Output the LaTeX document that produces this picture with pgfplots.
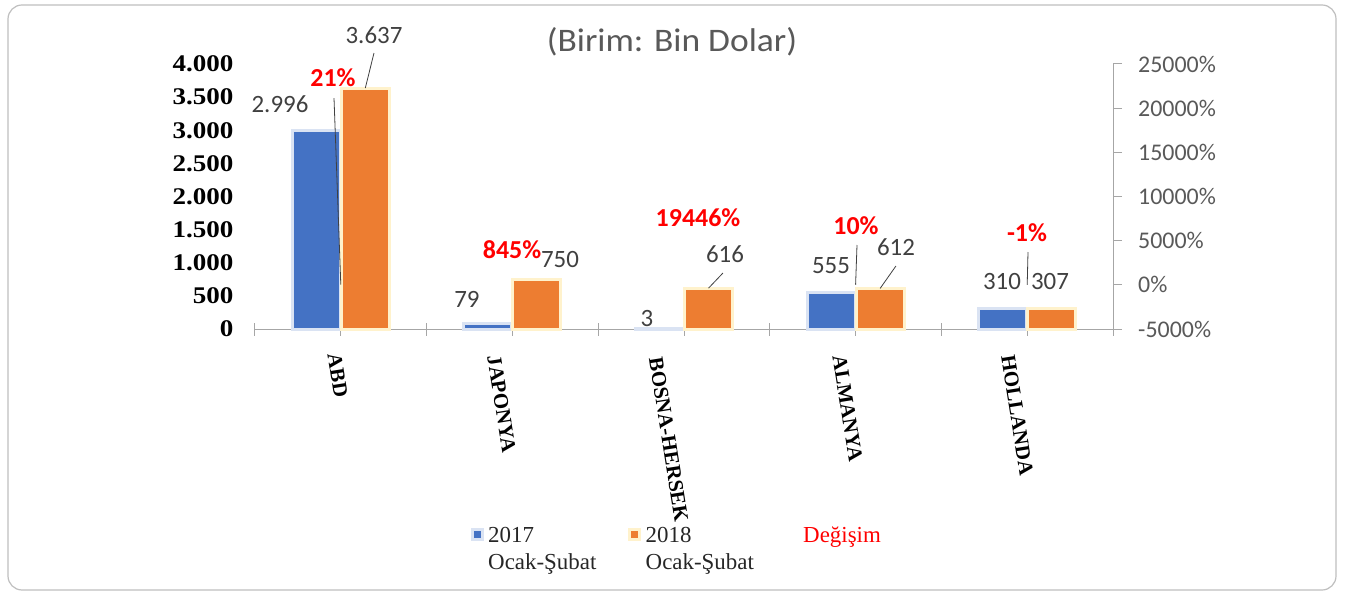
\documentclass[border=0pt]{standalone}
\usepackage{fontspec}
\setmainfont{Liberation Serif}
\newfontfamily\carlito{Carlito}
\usepackage{graphicx}
\usepackage{pgfplots}
\pgfplotsset{compat=1.18}
\definecolor{cblue}{HTML}{4472C4}
\definecolor{corange}{HTML}{ED7D31}
\definecolor{hblue}{HTML}{DAE3F3}
\definecolor{horange}{HTML}{FFF2CC}
\definecolor{axgray}{HTML}{A6A6A6}
\definecolor{txt}{HTML}{404040}
\definecolor{ttl}{HTML}{595959}
\newcommand{\cl}[2]{\raisebox{#1}[15bp][4bp]{#2}}
\newcommand{\lt}[2]{\makebox[140bp][l]{\rlap{\smash{\raisebox{-27bp}{#2}}}#1}}

\begin{document}
\begin{tikzpicture}
\useasboundingbox (-255bp,-266bp) rectangle (1091bp,329bp);
\draw[color=black!25, line width=1.2bp, rounded corners=14bp] (-247bp,-261bp) rectangle (1081bp,324bp);

\begin{axis}[
  at={(0,0)}, anchor=south west,
  scale only axis, width=858bp, height=265bp,
  xmin=-0.5, xmax=4.5, ymin=0, ymax=4000,
  clip=false,
  axis x line*=bottom, axis y line*=left,
  y axis line style={draw=none},
  x axis line style={draw=axgray, line width=1bp, -},
  xtick={0,1,2,3,4},
  xticklabels={\cl{-8bp}{ABD},\cl{-20bp}{JAPONYA},\cl{-30bp}{BOSNA-HERSEK},\cl{-18bp}{ALMANYA},\cl{-21bp}{HOLLANDA}},
  extra x ticks={-0.5,0.5,1.5,2.5,3.5,4.5},
  extra x tick labels={},
  extra x tick style={tick align=center, major tick length=13bp, x tick style={draw=axgray, line width=1bp}},
  x tick style={draw=axgray, line width=1bp},
  tick align=center,
  major tick length=13bp,
  xticklabel style={yshift=-17bp, rotate=-81, anchor=west, inner sep=0pt, font=\fontsize{21}{21}\selectfont\bfseries, text=black},
  ytick={0,500,...,4000},
  y tick style={draw=none},
  scaled y ticks=false,
  yticklabel={\scalebox{1.13}[1]{\pgfmathprintnumber[1000 sep={.},assume math mode=true]{\tick}}},
  yticklabel style={anchor=east, inner sep=0pt, xshift=-15bp, font=\fontsize{24}{24}\selectfont\bfseries, text=black},
  legend columns=3,
  legend cell align=left,
  legend style={at={(0.2512,-0.747)}, anchor=north west, draw=none, fill=none, inner sep=0pt,
    font=\fontsize{23}{23}\selectfont, text=black!85,
    nodes={inner sep=0pt},
    /tikz/every odd column/.append style={column sep=4.5bp}},
]
\addplot[ybar, bar width=0.2797, bar shift=-0.1428, fill=cblue, draw=hblue, line width=3bp,
  legend image code/.code={\draw[fill=cblue, draw=hblue, line width=3bp] (0bp,-4bp) rectangle (10bp,6bp);}]
  coordinates {(0,2996) (1,79) (2,3) (3,555) (4,310)};
\addlegendentry{\lt{2017}{Ocak-Şubat}}
\addplot[ybar, bar width=0.2797, bar shift=0.1428, fill=corange, draw=horange, line width=3bp,
  legend image code/.code={\draw[fill=corange, draw=horange, line width=3bp] (0bp,-4bp) rectangle (10bp,6bp);}]
  coordinates {(0,3637) (1,750) (2,616) (3,612) (4,307)};
\addlegendentry{\lt{2018}{Ocak-Şubat}}
\addlegendimage{draw=none, fill=none, legend image code/.code={\path[draw=none, fill=none] (-1.5bp,-5.5bp) rectangle (11.5bp,7.5bp);}}
\addlegendentry{\textcolor{red}{Değişim}}

% value labels
\begin{scope}[every node/.style={anchor=base, inner sep=0pt, font=\carlito\fontsize{25}{25}\selectfont, text=txt}]
\node at (axis cs:0.1935,4317) {3.637};
\node at (axis cs:-0.3543,3275) {2.996};
\node at (axis cs:0.7354,332) {79};
\node at (axis cs:1.2774,921) {750};
\node at (axis cs:1.7844,45) {3};
\node at (axis cs:2.2389,1011) {616};
\node at (axis cs:2.8566,845) {555};
\node at (axis cs:3.2354,1117) {612};
\node at (axis cs:3.8531,589) {310};
\node at (axis cs:4.1329,589) {307};
\end{scope}
\begin{scope}[every node/.style={anchor=base, inner sep=0pt, font=\carlito\bfseries\fontsize{26}{26}\selectfont, text=red}]
\node at (axis cs:-0.0455,3653) {21\%};
\node at (axis cs:0.9977,1057) {845\%};
\node at (axis cs:2.0816,1540) {19446\%};
\node at (axis cs:3.0023,1419) {10\%};
\node at (axis cs:3.9988,1328) {-1\%};
\end{scope}
\draw[black!75, line width=0.8bp] (axis cs:0.1935,4166) -- (axis cs:0.1428,3637);
\draw[black!75, line width=0.8bp] (axis cs:2.227,845) -- (axis cs:2.1428,616);
\draw[black!75, line width=0.8bp] (axis cs:3.235,951) -- (axis cs:3.1428,612);
\end{axis}

\begin{axis}[
  at={(0,0)}, anchor=south west,
  scale only axis, width=858bp, height=265bp,
  xmin=-0.5, xmax=4.5, ymin=-5000, ymax=25000,
  clip=false,
  axis x line=none, axis y line*=right,
  y axis line style={draw=axgray, line width=1bp, -},
  ytick={-5000,0,...,25000},
  y tick style={draw=axgray, line width=1bp},
  tick align=outside,
  major tick length=9bp,
  scaled y ticks=false,
  yticklabel={\pgfmathprintnumber[fixed,1000 sep={},assume math mode=true]{\tick}\%},
  yticklabel style={anchor=west, inner sep=0pt, xshift=16bp, font=\carlito\fontsize{24}{24}\selectfont, text=ttl},
]
\addplot[draw=none, forget plot] coordinates {(0,21) (1,845) (2,19446) (3,10) (4,-1)};
\draw[black!75, line width=0.8bp] (axis cs:-0.0396,21149) -- (axis cs:0,21);
\draw[black!75, line width=0.8bp] (axis cs:3.0082,4509) -- (axis cs:3,10);
\draw[black!75, line width=0.8bp] (axis cs:4.0047,3716) -- (axis cs:4,-1);
\end{axis}

\node[anchor=base, inner sep=0pt, font=\carlito\fontsize{33}{33}\selectfont, text=ttl] at (417bp,277bp) {\scalebox{1.08}[1]{(Birim: Bin Dolar)}};
\end{tikzpicture}
\end{document}
